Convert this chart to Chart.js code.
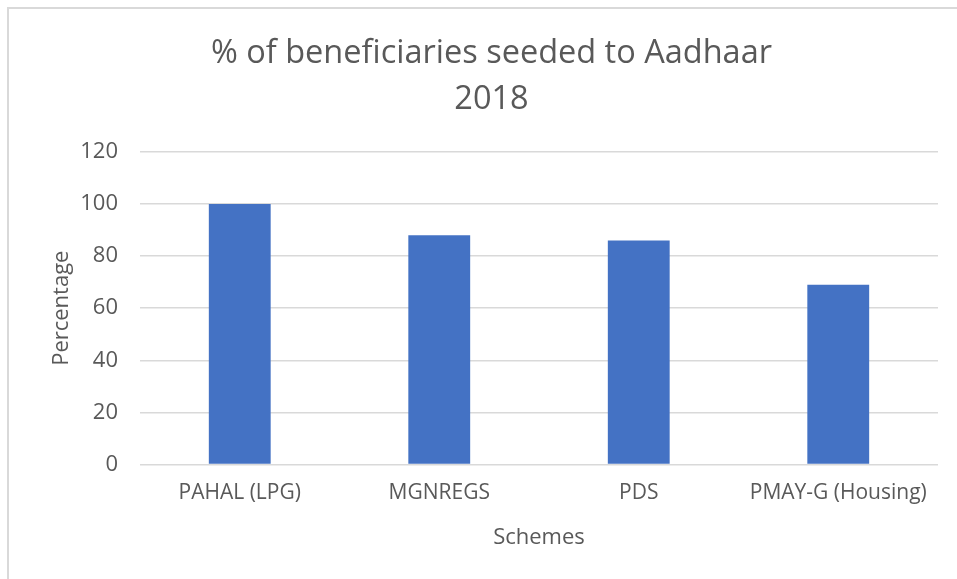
<!DOCTYPE html>
<html lang="en">
<head>
    <meta charset="UTF-8">
    <title>Aadhaar seeding</title>
    <script src="https://cdn.jsdelivr.net/npm/chart.js"></script>
    <style>
        body { margin: 0; background: #fff; overflow: hidden; }
        #frame { position: absolute; left: 7px; top: 7px; width: 1000px; height: 700px; border: 2px solid #d9d9d9; box-sizing: border-box; }
        #wrap { position: absolute; left: 0; top: 0; width: 957px; height: 579px; }
    </style>
</head>
<body>
    <div id="frame"></div>
    <div id="wrap"><canvas id="chart"></canvas></div>
    <script>
        const schemes = ['PAHAL (LPG)', 'MGNREGS', 'PDS', 'PMAY-G (Housing)'];
        const seeded = [100, 88, 86, 69];
        const titleLines = ['% of beneficiaries seeded to Aadhaar', '2018'];

        const grey = '#595959';
        const font = "'Open Sans', sans-serif";

        new Chart(document.getElementById('chart'), {
            type: 'bar',
            data: {
                labels: schemes,
                datasets: [{
                    data: seeded,
                    backgroundColor: '#4472C4',
                    categoryPercentage: 1,
                    barPercentage: 0.31
                }]
            },
            options: {
                responsive: true,
                maintainAspectRatio: false,
                animation: false,
                layout: { padding: { left: 45, right: 19, top: 0, bottom: 28 } },
                plugins: {
                    legend: { display: false },
                    tooltip: { enabled: false },
                    title: {
                        display: true,
                        text: titleLines,
                        color: grey,
                        font: { family: font, size: 32.5, weight: 'normal', lineHeight: 1.415 },
                        padding: { top: 31, bottom: 29 }
                    }
                },
                scales: {
                    x: {
                        grid: { display: false },
                        border: { display: false },
                        ticks: { color: grey, font: { family: font, size: 21 }, padding: 8, maxRotation: 0 },
                        title: { display: true, text: 'Schemes', color: grey, font: { family: font, size: 22 }, padding: { top: 11, bottom: 0 } }
                    },
                    y: {
                        min: 0,
                        max: 120,
                        ticks: { stepSize: 20, color: grey, font: { family: font, size: 22 }, padding: 22 },
                        grid: { color: '#d9d9d9', lineWidth: 1.5, drawTicks: false },
                        border: { display: false },
                        title: { display: true, text: 'Percentage', color: grey, font: { family: font, size: 22 }, padding: 4 },
                        afterFit: function (scale) { scale.width = 95; }
                    }
                }
            }
        });
    </script>
</body>
</html>
